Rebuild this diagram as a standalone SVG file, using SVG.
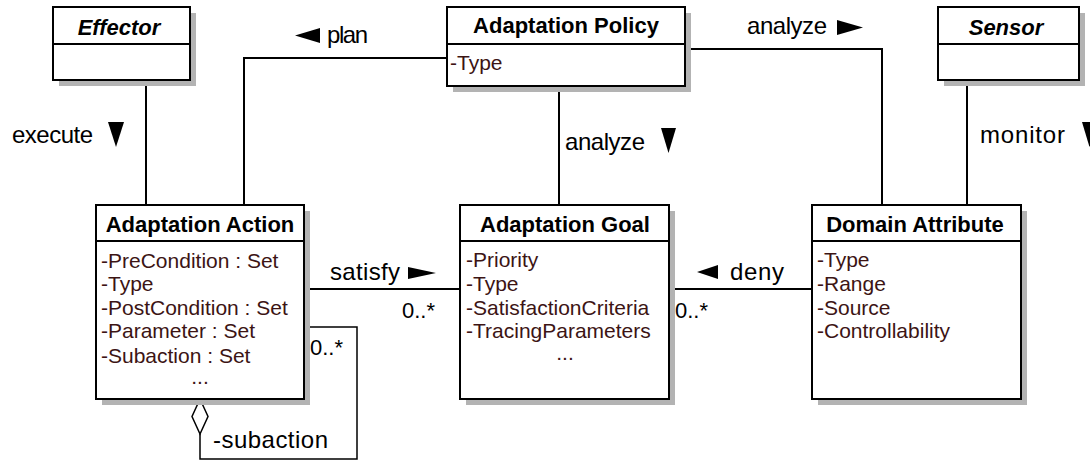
<svg xmlns="http://www.w3.org/2000/svg" width="1090" height="462" viewBox="0 0 1090 462">
<style>
.box{fill:#fff;stroke:#000;stroke-width:2}
.sh{fill:#b3b3b3}
.div{stroke:#000;stroke-width:2}
.hd{font-family:"Liberation Sans",Arial,sans-serif;font-size:22px;font-weight:bold;fill:#000;text-anchor:middle}
.it{font-style:italic}
.at{font-family:"Liberation Sans",Arial,sans-serif;font-size:21px;fill:#3c1414}
.lb{font-family:"Liberation Sans",Arial,sans-serif;font-size:24px;fill:#000}
.mu{font-family:"Liberation Sans",Arial,sans-serif;font-size:22px;fill:#000}
.ln{fill:none;stroke:#000;stroke-width:2}
.thin{fill:none;stroke:#000;stroke-width:1.5}
.tri{fill:#000}
</style>
<rect width="1090" height="462" fill="#fff"/>
<g id="connectors">
<path class="ln" d="M146 80V205"/>
<path class="ln" d="M447 58H244V205"/>
<path class="ln" d="M685 49H882V205"/>
<path class="ln" d="M559 86V205" stroke-width="2.5"/>
<path class="ln" d="M967 80V205"/>
<path class="ln" d="M304 289H460"/>
<path class="ln" d="M669 289H812"/>
<path class="thin" d="M304 327H357V459H200V434"/>
<polygon points="200,399 208,416.5 200,434 192,416.5" fill="#fff" stroke="#000" stroke-width="1.5"/>
<polygon class="tri" points="108,122 124,122 116,147"/>
<polygon class="tri" points="320,28 320,43 295,35.5"/>
<polygon class="tri" points="837,20 837,35 863,27.5"/>
<polygon class="tri" points="661,128 676,128 668.5,153"/>
<polygon class="tri" points="1082,122 1097,122 1089.5,147"/>
<polygon class="tri" points="408,267 408,279 436,273"/>
<polygon class="tri" points="718,265 718,279 697,272"/>
<text class="lb" x="12" y="143" textLength="81" lengthAdjust="spacing">execute</text>
<text class="lb" x="327" y="43" textLength="41" lengthAdjust="spacing">plan</text>
<text class="lb" x="747" y="34" textLength="80" lengthAdjust="spacing">analyze</text>
<text class="lb" x="565" y="150" textLength="80" lengthAdjust="spacing">analyze</text>
<text class="lb" x="980" y="143" textLength="85" lengthAdjust="spacing">monitor</text>
<text class="lb" x="330" y="280" textLength="70" lengthAdjust="spacing">satisfy</text>
<text class="lb" x="730" y="280" textLength="54" lengthAdjust="spacing">deny</text>
<text class="mu" x="402" y="318">0..*</text>
<text class="mu" x="675" y="318">0..*</text>
<text class="mu" x="310" y="355">0..*</text>
<text class="lb" x="213" y="448" textLength="115" lengthAdjust="spacing">-subaction</text>
</g>
<g id="effector">
<rect class="sh" x="59" y="13" width="137" height="73"/>
<rect class="box" x="53" y="7" width="137" height="73"/>
<line class="div" x1="53" y1="44" x2="190" y2="44"/>
<text class="hd it" x="119" y="35">Effector</text>
</g>
<g id="sensor">
<rect class="sh" x="944" y="13" width="141" height="73"/>
<rect class="box" x="938" y="7" width="141" height="73"/>
<line class="div" x1="938" y1="44" x2="1079" y2="44"/>
<text class="hd it" x="1006" y="35">Sensor</text>
</g>
<g id="policy">
<rect class="sh" x="453" y="13" width="238" height="79"/>
<rect class="box" x="447" y="7" width="238" height="79"/>
<line class="div" x1="447" y1="44" x2="685" y2="44"/>
<text class="hd" x="566" y="33">Adaptation Policy</text>
<text class="at" x="450" y="70">-Type</text>
</g>
<g id="action">
<rect class="sh" x="102" y="211" width="208" height="194"/>
<rect class="box" x="96" y="205" width="208" height="194"/>
<line class="div" x1="96" y1="241" x2="304" y2="241"/>
<text class="hd" x="200" y="232">Adaptation Action</text>
<text class="at" x="101" y="268">-PreCondition : Set</text>
<text class="at" x="101" y="291">-Type</text>
<text class="at" x="101" y="315">-PostCondition : Set</text>
<text class="at" x="101" y="338">-Parameter : Set</text>
<text class="at" x="101" y="363">-Subaction : Set</text>
<text class="at" x="200" y="384" text-anchor="middle">...</text>
</g>
<g id="goal">
<rect class="sh" x="466" y="211" width="209" height="194"/>
<rect class="box" x="460" y="205" width="209" height="194"/>
<line class="div" x1="460" y1="241" x2="669" y2="241"/>
<text class="hd" x="565" y="232">Adaptation Goal</text>
<text class="at" x="466" y="267">-Priority</text>
<text class="at" x="466" y="291">-Type</text>
<text class="at" x="466" y="315">-SatisfactionCriteria</text>
<text class="at" x="466" y="338">-TracingParameters</text>
<text class="at" x="565" y="360" text-anchor="middle">...</text>
</g>
<g id="domain">
<rect class="sh" x="818" y="211" width="209" height="194"/>
<rect class="box" x="812" y="205" width="209" height="194"/>
<line class="div" x1="812" y1="241" x2="1021" y2="241"/>
<text class="hd" x="915" y="232">Domain Attribute</text>
<text class="at" x="817" y="267">-Type</text>
<text class="at" x="817" y="291">-Range</text>
<text class="at" x="817" y="315">-Source</text>
<text class="at" x="817" y="338">-Controllability</text>
</g>
</svg>
